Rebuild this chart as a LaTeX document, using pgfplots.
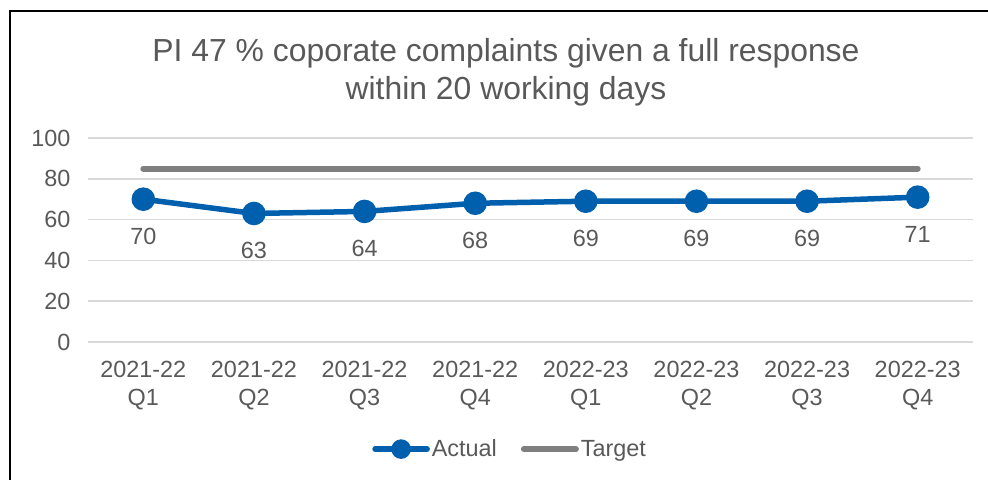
\documentclass[border=0pt]{standalone}
\usepackage{pgfplots}
\pgfplotsset{compat=1.18}
\usepackage{fontspec}
\setmainfont{Liberation Sans}

\definecolor{actualblue}{HTML}{0060AE}
\definecolor{targetgrey}{HTML}{7F7F7F}
\definecolor{gridgrey}{HTML}{D9D9D9}
\definecolor{txtgrey}{HTML}{595959}

\newcommand{\tickfont}{\fontsize{23.5}{28}\selectfont}

\begin{document}
\begin{tikzpicture}[x=1bp,y=1bp]
\useasboundingbox (0,0) rectangle (988,480);
% chart frame (cropped on the right and at the bottom)
\draw[black, line width=2bp] (10,0) -- (10,469) -- (988,469);

% title
\node[anchor=base, text=txtgrey, font=\fontsize{32}{38}\selectfont] at (506,418) {PI 47 \% coporate complaints given a full response};
\node[anchor=base, text=txtgrey, font=\fontsize{32}{38}\selectfont] at (506,380) {within 20 working days};

\begin{axis}[
  at={(88bp,138bp)}, anchor=south west,
  scale only axis,
  width=885bp, height=204bp,
  xmin=-0.5, xmax=7.5,
  ymin=0, ymax=100,
  xtick={0,...,7},
  xticklabels={{2021-22\\Q1},{2021-22\\Q2},{2021-22\\Q3},{2021-22\\Q4},
               {2022-23\\Q1},{2022-23\\Q2},{2022-23\\Q3},{2022-23\\Q4}},
  ytick={0,20,...,100},
  /pgf/number format/assume math mode=true,
  tick label style={font=\tickfont, text=txtgrey},
  xticklabel style={align=center},
  major tick length=0pt,
  axis line style={draw=none},
  ymajorgrids,
  major grid style={gridgrey, line width=1.5bp},
  xticklabel shift=16bp,
  yticklabel shift=14bp,
  clip=false,
  legend columns=2,
  legend style={at={(0.477,-0.525)}, anchor=center, draw=none, fill=none,
    font=\tickfont, text=txtgrey,
    /tikz/every even column/.append style={column sep=22bp}},
]
\addplot[actualblue, line width=5.5bp, mark=*, mark size=9bp,
  nodes near coords,
  every node near coord/.append style={anchor=center, yshift=-37bp, font=\tickfont, text=txtgrey},
  legend image code/.code={
    \draw[line width=5.5bp, line cap=round] (0bp,0bp) -- (52bp,0bp);
    \fill (26bp,0bp) circle (7bp);
  }]
  coordinates {(0,70) (1,63) (2,64) (3,68) (4,69) (5,69) (6,69) (7,71)};
\addlegendentry{Actual}
\addplot[targetgrey, line width=6bp, line cap=round, mark=none,
  legend image code/.code={
    \draw[line width=6bp, line cap=round] (0bp,0bp) -- (52bp,0bp);
  }]
  coordinates {(0,85) (1,85) (2,85) (3,85) (4,85) (5,85) (6,85) (7,85)};
\addlegendentry{Target}
\end{axis}
\end{tikzpicture}
\end{document}
